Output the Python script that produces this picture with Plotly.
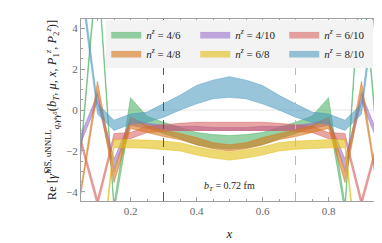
import plotly.graph_objects as go

x = [0.05, 0.10, 0.15, 0.20, 0.25, 0.30, 0.35, 0.40, 0.45, 0.50,
     0.55, 0.60, 0.65, 0.70, 0.75, 0.80, 0.85, 0.90, 0.95]

labels = ["4/6", "4/10", "6/10", "4/8", "6/8", "8/10"]

lo_46 = [-2.2, 7.0, -5.0, -0.35, -0.85, -1.15, -1.4, -1.7, -1.85, -1.9,
         -1.85, -1.7, -1.4, -1.15, -0.85, -0.35, -5.0, 7.0, -2.2]
hi_46 = [-1.8, 7.5, -4.6, 0.6, -0.3, -0.6, -0.85, -1.1, -1.2, -1.25,
         -1.2, -1.1, -0.85, -0.6, -0.3, 0.6, -4.6, 7.5, -1.8]

lo_48 = [-4.1, 0.85, -3.55, -0.9, -1.1, -1.3, -1.45, -1.7, -1.9, -2.0,
         -1.9, -1.7, -1.45, -1.3, -1.1, -0.9, -3.55, 0.85, -4.1]
hi_48 = [-3.8, 1.4, -3.0, -0.35, -0.75, -1.0, -1.15, -1.35, -1.6, -1.7,
         -1.6, -1.35, -1.15, -1.0, -0.75, -0.35, -3.0, 1.4, -3.8]

lo_410 = [-1.6, 0.4, -2.9, -0.75, -0.9, -0.95, -1.0, -1.0, -1.0, -1.0,
          -1.0, -1.0, -1.0, -0.95, -0.9, -0.75, -2.9, 0.4, -1.6]
hi_410 = [-1.2, 0.8, -2.4, -0.45, -0.65, -0.75, -0.8, -0.8, -0.85, -0.85,
          -0.85, -0.8, -0.8, -0.75, -0.65, -0.45, -2.4, 0.8, -1.2]

lo_68 = [-7.0, -9.5, -1.85, -1.85, -1.87, -1.92, -2.0, -2.2, -2.35, -2.45,
         -2.35, -2.2, -2.0, -1.92, -1.87, -1.85, -1.85, -9.5, -7.0]
hi_68 = [-6.6, -9.0, -1.45, -1.45, -1.47, -1.52, -1.6, -1.8, -1.95, -2.05,
         -1.95, -1.8, -1.6, -1.52, -1.47, -1.45, -1.45, -9.0, -6.6]

lo_610 = [-1.7, -4.7, -1.45, -1.4, -1.1, -1.05, -1.0, -1.0, -1.0, -1.0,
          -1.0, -1.0, -1.0, -1.05, -1.1, -1.4, -1.45, -4.7, -1.7]
hi_610 = [-1.4, -4.35, -1.15, -1.1, -0.8, -0.72, -0.65, -0.6, -0.6, -0.6,
          -0.6, -0.6, -0.65, -0.72, -0.8, -1.1, -1.15, -4.35, -1.4]

lo_810 = [6.0, -0.2, -1.0, -0.7, -0.6, -0.35, 0.0, 0.3, 0.55, 0.62,
          0.55, 0.3, 0.0, -0.35, -0.6, -0.7, -1.0, -0.2, 6.0]
hi_810 = [6.6, 0.3, -0.5, -0.2, -0.1, 0.3, 0.72, 1.2, 1.46, 1.63,
          1.46, 1.2, 0.72, 0.3, -0.1, -0.2, -0.5, 0.3, 6.6]

bands = {
    "4/6": (lo_46, hi_46, "rgba(64,173,91,0.55)"),
    "4/10": (lo_410, hi_410, "rgba(146,100,200,0.55)"),
    "6/10": (lo_610, hi_610, "rgba(213,91,88,0.55)"),
    "4/8": (lo_48, hi_48, "rgba(215,119,25,0.6)"),
    "6/8": (lo_68, hi_68, "rgba(225,190,20,0.6)"),
    "8/10": (lo_810, hi_810, "rgba(70,150,190,0.55)"),
}

fig = go.Figure()
for lab in labels:
    lo, hi, col = bands[lab]
    fig.add_trace(go.Scatter(
        x=x + x[::-1], y=hi + lo[::-1], fill="toself", fillcolor=col,
        line=dict(color=col, width=0.8), mode="lines",
        name="<i>n</i><sup><i>z</i></sup> = " + lab, hoverinfo="skip"))

fig.add_shape(type="line", x0=0.3, x1=0.3, y0=0, y1=1, yref="paper",
              line=dict(color="#555", width=1, dash="dash"), layer="above")
fig.add_shape(type="line", x0=0.7, x1=0.7, y0=0, y1=1, yref="paper",
              line=dict(color="#bbb", width=1, dash="dash"), layer="above")

fig.add_annotation(x=0.5, y=-3.75, text="<i>b</i><sub><i>T</i></sub> = 0.72 fm",
                   showarrow=False, font=dict(size=10, color="#222"))

axcommon = dict(showline=True, linecolor="#a0a0a0", linewidth=1, mirror="allticks",
                ticks="inside", ticklen=4, tickcolor="#a0a0a0", showgrid=False,
                zeroline=False, tickfont=dict(size=11, color="#666"))

fig.update_xaxes(range=[0.05, 0.95], tickvals=[0.2, 0.4, 0.6, 0.8],
                 ticktext=["0.2", "0.4", "0.6", "0.8"],
                 minor=dict(ticks="inside", dtick=0.05, tick0=0, ticklen=2, tickcolor="#a0a0a0"),
                 title=dict(text="<i>x</i>", font=dict(size=13, color="#222"), standoff=12),
                 **axcommon)
fig.update_yaxes(range=[-4.45, 4.45], tickvals=[-4, -2, 0, 2, 4],
                 ticktext=["\u22124", "\u22122", "0", "2", "4"],
                 minor=dict(ticks="inside", dtick=0.5, tick0=0, ticklen=2, tickcolor="#a0a0a0"),
                 title=dict(text="Re [<i>\u03b3\u0302</i><sup>M\u0305S\u0305, uNNLL</sup><sub><i>q</i>,<i>\u03b3</i>\u1d57<i>\u03b3</i>\u2075</sub>(<i>b</i><sub><i>T</i></sub>, <i>\u03bc</i>, <i>x</i>, <i>P</i><sub>1</sub><sup><i>z</i></sup>, <i>P</i><sub>2</sub><sup><i>z</i></sup>)]",
                            font=dict(size=12.5, color="#222"), standoff=6),
                 **axcommon)

fig.add_hline(y=0, line=dict(color="#e6e6e6", width=1), layer="below")

fig.update_layout(
    width=382, height=243,
    margin=dict(l=73, r=12, t=11, b=50),
    plot_bgcolor="white", paper_bgcolor="white",
    font=dict(family="Liberation Serif", color="#222"),
    showlegend=True,
    legend=dict(orientation="h", x=0.085, y=0.995, xanchor="left", yanchor="top",
                bgcolor="rgb(243,243,243)", font=dict(size=11, color="#222"),
                entrywidth=44, entrywidthmode="pixels", itemwidth=30,
                traceorder="normal"),
)

fig.write_html("out.html")
